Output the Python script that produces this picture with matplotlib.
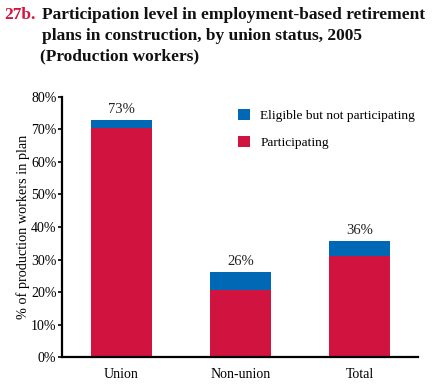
import matplotlib
matplotlib.use("Agg")
import matplotlib.pyplot as plt
import numpy as np

# data
groups = ["Union", "Non-union", "Total"]
participating = [70.6, 20.6, 31.2]
eligible_not = [2.4, 5.6, 4.5]
totals = ["73%", "26%", "36%"]
yticks = [0, 10, 20, 30, 40, 50, 60, 70, 80]

red = "#d0143f"
blue = "#0068b4"
plt.rcParams["font.family"] = ["Liberation Serif", "DejaVu Serif"]

fig = plt.figure(figsize=(4.33, 3.9), dpi=100)
ax = fig.add_axes([0.1432, 0.0846, 0.822, 0.6667])

x = np.arange(len(groups))
ax.bar(x, participating, width=0.51, color=red, label="Participating")
ax.bar(x, eligible_not, width=0.51, bottom=participating, color=blue,
       label="Eligible but not participating")

for xi, p, e, t in zip(x, participating, eligible_not, totals):
    ax.text(xi, p + e + 1.3, t, ha="center", va="bottom", fontsize=10.5, color="#222222")

ax.set_xlim(-0.5, 2.49)
ax.set_ylim(0, 80)
ax.set_yticks(yticks)
ax.set_yticklabels([f"{v}%" for v in yticks], fontsize=10)
ax.set_xticks(x)
ax.set_xticklabels(groups, fontsize=10)
ax.tick_params(axis="x", length=0, pad=8)
ax.tick_params(axis="y", length=3, width=1.2, pad=1)
for s in ["top", "right"]:
    ax.spines[s].set_visible(False)
ax.spines["left"].set_linewidth(1.6)
ax.spines["bottom"].set_linewidth(1.6)
ax.set_ylabel("% of production workers in plan", fontsize=10.3, labelpad=1)

h, l = ax.get_legend_handles_labels()
ax.legend(h[::-1], l[::-1], loc="upper left", bbox_to_anchor=(0.462, 1.0),
          frameon=False, fontsize=9.6, handlelength=0.9, handleheight=0.9,
          handletextpad=0.75, labelspacing=1.05)

fig.text(0.01, 0.962, "27b.", fontsize=12.5, fontweight="bold", color="#d4143c", va="center")
fig.text(0.097, 0.962, "Participation level in employment-based retirement",
         fontsize=12.5, fontweight="bold", va="center", color="#111111")
fig.text(0.097, 0.908, "plans in construction, by union status, 2005",
         fontsize=12.5, fontweight="bold", va="center", color="#111111")
fig.text(0.092, 0.855, "(Production workers)",
         fontsize=12.5, fontweight="bold", va="center", color="#111111")

fig.savefig("out.png", dpi=100)
